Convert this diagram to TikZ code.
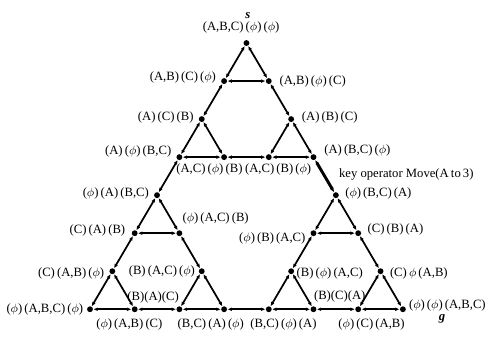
\documentclass[tikz,border=0pt]{standalone}
\usepackage{amsmath}
\usepackage{amssymb}
\usepackage{fontspec}
\setmainfont{Liberation Serif}
\usepackage{tikz}
\usetikzlibrary{positioning,arrows.meta}
\newcommand{\nopeg}{$\phi$}

\begin{document}
\begin{tikzpicture}[x=33.5pt, y=28.5pt,
    state/.style={circle, fill=black, inner sep=0pt, minimum size=4.4pt},
    lbl/.style={inner sep=0.5pt, font=\fontsize{9.5}{11}\selectfont},
    move/.style={line width=1.3pt, {Latex[length=3.4pt,width=2.8pt]}-{Latex[length=3.4pt,width=2.8pt]}},
    keymove/.style={move, line width=2.2pt}]
            \useasboundingbox (-2.013,-0.737) rectangle (8.859,8.132);

            % States q<peg of A><peg of B><peg of C>
            % Disk A on peg 1
            \node[state] (q111) at (3.5,7) {};
            \node[state] (q112) at (3,6) {};
            \node[state] (q113) at (4,6) {};
            \node[state] (q132) at (2.5,5) {};
            \node[state] (q133) at (2,4) {};
            \node[state] (q131) at (3,4) {};
            \node[state] (q123) at (4.5,5) {};
            \node[state] (q121) at (4,4) {};
            \node[state] (q122) at (5,4) {};

            % Disk A on peg 2
            \node[state] (q233) at (1.5,3) {};
            \node[state] (q231) at (1,2) {};
            \node[state] (q232) at (2,2) {};
            \node[state] (q221) at (0.5,1) {};
            \node[state] (q222) at (0,0) {};
            \node[state] (q223) at (1,0) {};
            \node[state] (q212) at (2.5,1) {};
            \node[state] (q213) at (2,0) {};
            \node[state] (q211) at (3,0) {};

            % Disk A on peg 3
            \node[state] (q322) at (5.5,3) {};
            \node[state] (q323) at (5,2) {};
            \node[state] (q321) at (6,2) {};
            \node[state] (q313) at (4.5,1) {};
            \node[state] (q311) at (4,0) {};
            \node[state] (q312) at (5,0) {};
            \node[state] (q331) at (6.5,1) {};
            \node[state] (q332) at (6,0) {};
            \node[state] (q333) at (7,0) {};

            % Moves
            \foreach \a/\b in {q111/q112, q111/q113, q112/q113, q132/q133, q132/q131, q133/q131,
                q123/q121, q123/q122, q121/q122, q233/q231, q233/q232, q231/q232,
                q221/q222, q221/q223, q222/q223, q212/q213, q212/q211, q213/q211,
                q322/q323, q322/q321, q323/q321, q313/q311, q313/q312, q311/q312,
                q331/q332, q331/q333, q332/q333, q112/q132, q113/q123, q131/q121,
                q231/q221, q232/q212, q223/q213, q323/q313, q321/q331, q312/q332,
                q133/q233, q211/q311}
                \draw[move] (\a) -- (\b);
            \draw[keymove] (q122) -- (q322);

            % Labels, top
            \node[lbl, above=4pt of q111, xshift=-4pt] (t111) {(A,B,C)\,(\nopeg)\,(\nopeg)};
            \node[lbl, above=1.5pt of t111, xshift=5pt] (s) {\textbf{\textit{s}}};
            \node[lbl, left=3pt of q112, yshift=3pt] (t112) {(A,B)\,(C)\,(\nopeg)};
            \node[lbl, right=5pt of q113] (t113) {(A,B)\,(\nopeg)\,(C)};
            \node[lbl, left=3pt of q132, yshift=1.5pt] (t132) {(A)\,(C)\,(B)};
            \node[lbl, left=3pt of q133, yshift=4.5pt] (t133) {(A)\,(\nopeg)\,(B,C)};
            \node[lbl, below=1.5pt of q131, xshift=-11pt] (t131) {(A,C)\,(\nopeg)\,(B)};
            \node[lbl, right=5pt of q123, yshift=1.5pt] (t123) {(A)\,(B)\,(C)};
            \node[lbl, below=1.5pt of q121, xshift=7pt] (t121) {(A,C)\,(B)\,(\nopeg)};
            \node[lbl, right=5pt of q122, yshift=5pt] (t122) {(A)\,(B,C)\,(\nopeg)};

            % Labels, left
            \node[lbl, left=3pt of q233, yshift=1.5pt] (t233) {(\nopeg)\,(A)\,(B,C)};
            \node[lbl, left=4pt of q231, yshift=2pt] (t231) {(C)\,(A)\,(B)};
            \node[lbl, above right=4pt and 0pt of q232] (t232) {(\nopeg)\,(A,C)\,(B)};
            \node[lbl, left=3pt of q221, yshift=-1.5pt] (t221) {(C)\,(A,B)\,(\nopeg)};
            \node[lbl, left=2pt of q222] (t222) {(\nopeg)\,(A,B,C)\,(\nopeg)};
            \node[lbl, below=4pt of q223, xshift=-4pt] (t223) {(\nopeg)\,(A,B)\,(C)};
            \node[lbl, left=2pt of q212] (t212) {(B)\,(A,C)\,(\nopeg)};
            \node[lbl, above left=2pt and -2pt of q213] (t213) {(B)(A)(C)};
            \node[lbl, below=4pt of q211, xshift=-10pt] (t211) {(B,C)\,(A)\,(\nopeg)};

            % Labels, right
            \node[lbl, right=4pt of q322, yshift=1.5pt] (t322) {(\nopeg)\,(B,C)\,(A)};
            \node[lbl, above right=9pt and 0pt of q322] (keyop) {key operator Move(A\,to\,3)};
            \node[lbl, left=3pt of q323, yshift=-4pt] (t323) {(\nopeg)\,(B)\,(A,C)};
            \node[lbl, right=4pt of q321, yshift=3pt] (t321) {(C)\,(B)\,(A)};
            \node[lbl, right=1pt of q313, yshift=-1.5pt] (t313) {(B)\,(\nopeg)\,(A,C)};
            \node[lbl, below=4pt of q311, xshift=11pt] (t311) {(B,C)\,(\nopeg)\,(A)};
            \node[lbl, above right=3pt and -2pt of q312] (t312) {(B)(C)(A)};
            \node[lbl, right=4pt of q331, yshift=-1.5pt] (t331) {(C)\,\nopeg\,(A,B)};
            \node[lbl, below=4pt of q332, xshift=10pt] (t332) {(\nopeg)\,(C)\,(A,B)};
            \node[lbl, right=1.5pt of q333, yshift=3pt] (t333) {(\nopeg)\,(\nopeg)\,(A,B,C)};
            \node[lbl, below=1pt of t333, xshift=-4pt] (g) {\textbf{\textit{g}}};
        \end{tikzpicture}
\end{document}
